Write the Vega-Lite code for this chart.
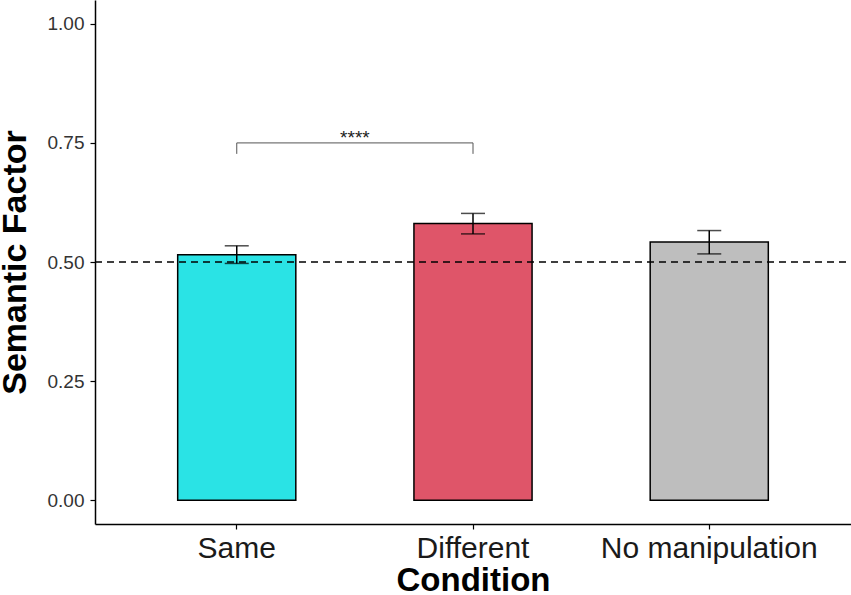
{
  "$schema": "https://vega.github.io/schema/vega-lite/v6.json",
  "width": 756,
  "height": 524,
  "autosize": "none",
  "padding": {"left": 95, "top": 0, "right": 0, "bottom": 71},
  "background": "white",
  "config": {
    "view": {"stroke": null},
    "font": "Liberation Sans",
    "axis": {"grid": false, "domainColor": "black", "domainWidth": 1.5, "tickColor": "black", "tickWidth": 1.2, "tickSize": 5}
  },
  "datasets": {
    "bars": [
      {"Condition": "Same", "mean": 0.515, "lower": 0.497, "upper": 0.534},
      {"Condition": "Different", "mean": 0.581, "lower": 0.559, "upper": 0.602},
      {"Condition": "No manipulation", "mean": 0.542, "lower": 0.517, "upper": 0.566}
    ],
    "bracket": [
      {"from": "Same", "to": "Different", "y": 0.75, "tip": 0.727, "label": "****", "labelY": 0.747}
    ]
  },
  "encoding": {
    "x": {
      "field": "Condition",
      "type": "nominal",
      "scale": {"domain": ["Same", "Different", "No manipulation"], "paddingInner": 0.5, "paddingOuter": 0.35},
      "axis": {
        "title": "Condition",
        "labelAngle": 0,
        "labelLimit": 0,
        "labelFontSize": 30,
        "labelColor": "#1a1a1a",
        "labelBaseline": "alphabetic",
        "labelPadding": 28,
        "titleFontSize": 33,
        "titleFontWeight": "bold",
        "titleColor": "black",
        "titleBaseline": "alphabetic",
        "titleY": 66
      }
    }
  },
  "layer": [
    {
      "data": {"name": "bars"},
      "mark": {"type": "bar", "stroke": "black", "strokeWidth": 1.5},
      "encoding": {
        "y": {
          "field": "mean",
          "type": "quantitative",
          "scale": {"domain": [-0.05, 1.05], "nice": false, "zero": false},
          "axis": {
            "title": "Semantic Factor",
            "values": [0, 0.25, 0.5, 0.75, 1],
            "format": ".2f",
            "labelFontSize": 19,
            "labelColor": "#333333",
            "labelPadding": 6,
            "titleFontSize": 34,
            "titleFontWeight": "bold",
            "titleColor": "black",
            "titleBaseline": "alphabetic",
            "titleX": -70
          }
        },
        "y2": {"datum": 0},
        "color": {
          "field": "Condition",
          "type": "nominal",
          "scale": {"domain": ["Same", "Different", "No manipulation"], "range": ["#2ae3e5", "#df5569", "#bebebe"]},
          "legend": null
        }
      }
    },
    {
      "data": {"name": "bars"},
      "mark": {"type": "rule", "color": "black", "strokeWidth": 1.5},
      "encoding": {
        "y": {"field": "lower", "type": "quantitative"},
        "y2": {"field": "upper"}
      }
    },
    {
      "data": {"name": "bars"},
      "mark": {"type": "tick", "color": "black", "size": 24, "thickness": 1.5},
      "encoding": {"y": {"field": "lower", "type": "quantitative"}}
    },
    {
      "data": {"name": "bars"},
      "mark": {"type": "tick", "color": "black", "size": 24, "thickness": 1.5},
      "encoding": {"y": {"field": "upper", "type": "quantitative"}}
    },
    {
      "data": {"values": [{"y": 0.5}]},
      "mark": {"type": "rule", "color": "black", "strokeWidth": 1.3, "strokeDash": [7, 5]},
      "encoding": {
        "x": {"value": 0},
        "x2": {"value": 756},
        "y": {"field": "y", "type": "quantitative"}
      }
    },
    {
      "data": {"name": "bracket"},
      "mark": {"type": "rule", "color": "#555555", "strokeWidth": 1},
      "encoding": {
        "x": {"field": "from", "type": "nominal"},
        "x2": {"field": "to"},
        "y": {"field": "y", "type": "quantitative"}
      }
    },
    {
      "data": {"name": "bracket"},
      "mark": {"type": "rule", "color": "#555555", "strokeWidth": 1},
      "encoding": {
        "x": {"field": "from", "type": "nominal"},
        "y": {"field": "y", "type": "quantitative"},
        "y2": {"field": "tip"}
      }
    },
    {
      "data": {"name": "bracket"},
      "mark": {"type": "rule", "color": "#555555", "strokeWidth": 1},
      "encoding": {
        "x": {"field": "to", "type": "nominal"},
        "y": {"field": "y", "type": "quantitative"},
        "y2": {"field": "tip"}
      }
    },
    {
      "data": {"name": "bracket"},
      "mark": {"type": "text", "fontSize": 19, "color": "#222222", "baseline": "alphabetic"},
      "encoding": {
        "x": {"datum": "Same", "bandPosition": 1.5},
        "y": {"field": "labelY", "type": "quantitative"},
        "text": {"field": "label"}
      }
    }
  ]
}
